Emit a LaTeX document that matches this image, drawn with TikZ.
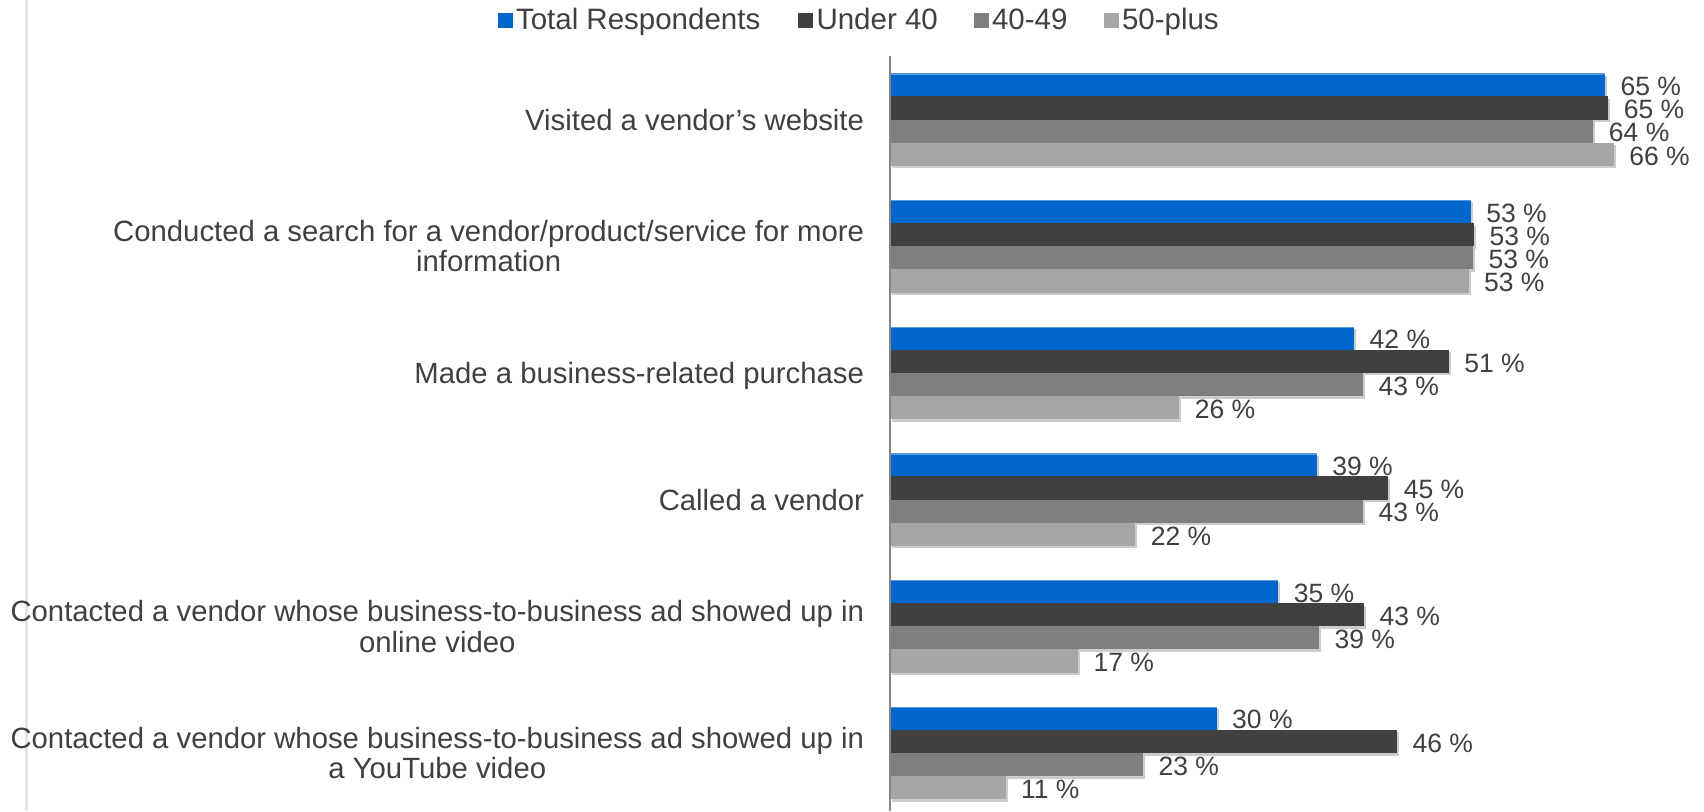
\documentclass[tikz,border=0pt]{standalone}
\usepackage{fontspec}
\setmainfont{Liberation Sans}
\usetikzlibrary{shadows}
\definecolor{cblue}{RGB}{0,102,204}
\definecolor{cbluetop}{RGB}{90,155,225}
\definecolor{cdark}{RGB}{64,64,64}
\definecolor{cgrey}{RGB}{127,127,127}
\definecolor{clight}{RGB}{166,166,166}
\definecolor{ctext}{RGB}{64,64,64}
\definecolor{caxis}{RGB}{134,134,134}
\definecolor{cframe}{RGB}{228,228,228}
\newcommand\chartbar[5]{%
  \pgfmathsetmacro\bt{73.3+126.67*#2+23.17*#3}%
  \pgfmathsetmacro\be{890+11*#4}%
  \fill[barshadow, fill=#1] (890,\bt) rectangle (\be,\bt+23.17);
  \node[val] (val#2#3) at (\be+15.5,\bt+22.2) {#5 \%};
}
\begin{document}
\begin{tikzpicture}[x=1pt,y=-1pt,
  barshadow/.style={drop shadow={shadow xshift=2pt,shadow yshift=-2.5pt,opacity=0.2,fill=black}},
  lbl/.style={font=\fontsize{29.3}{30.5}\selectfont, text=ctext, inner sep=0pt, outer sep=0pt},
  leg/.style={lbl, font=\fontsize{29.5}{30.5}\selectfont, anchor=base west},
  val/.style={lbl, font=\fontsize{26.5}{28}\selectfont, anchor=base west},
  cat/.style={lbl, anchor=base east},
  legsq/.style={minimum width=15pt, minimum height=15pt, inner sep=0pt, outer sep=0pt}]
\useasboundingbox (0,0) rectangle (1704,811);
\fill[white] (0,0) rectangle (1704,811);
% left frame line
\draw[cframe, line width=3pt] (26,0) -- (26,811);
% legend
\node[legsq, fill=cblue]  (sq1) at (505,20.5) {};
\node[leg] (leg1) at (516,29.5) {Total Respondents};
\node[legsq, fill=cdark]  (sq2) at (805.5,20.5) {};
\node[leg] (leg2) at (816.5,29.5) {Under 40};
\node[legsq, fill=cgrey]  (sq3) at (981,20.5) {};
\node[leg] (leg3) at (992,29.5) {40-49};
\node[legsq, fill=clight] (sq4) at (1111,20.5) {};
\node[leg] (leg4) at (1122,29.5) {50-plus};
% bars
\foreach \k/\a/\b/\c/\d/\la/\lb/\lc/\ld in {
  0/65.0/65.3/63.95/65.8/65/65/64/66,
  1/52.8/53.1/53.0/52.6/53/53/53/53,
  2/42.2/50.8/43.0/26.3/42/51/43/26,
  3/38.8/45.3/43.0/22.3/39/45/43/22,
  4/35.3/43.1/39.0/17.1/35/43/39/17,
  5/29.7/46.1/23.0/10.5/30/46/23/11}{
  \chartbar{cblue}{\k}{0}{\a}{\la}
  \pgfmathsetmacro\tt{73.3+126.67*\k}
  \draw[cbluetop, line width=1.2pt] (890,\tt+0.6) -- ({890+11*\a},\tt+0.6);
  \chartbar{cdark}{\k}{1}{\b}{\lb}
  \chartbar{cgrey}{\k}{2}{\c}{\lc}
  \chartbar{clight}{\k}{3}{\d}{\ld}
}
% axis
\draw[caxis, line width=1.3pt] (890,56) -- (890,811);
% category labels (group centre = 119.64 + 126.67 k)
\node[cat] (cat1) at (864,130.0) {Visited a vendor’s website};
\node[cat] (cat2a) at (864,241.4) {Conducted a search for a vendor/product/service for more};
\node[lbl, anchor=base] (cat2b) at ([yshift=-30.5pt]cat2a.base) {information};
\node[cat] (cat3) at (864,383.4) {Made a business-related purchase};
\node[cat] (cat4) at (864,510.1) {Called a vendor};
\node[cat] (cat5a) at (864,621.5) {Contacted a vendor whose business-to-business ad showed up in};
\node[lbl, anchor=base] (cat5b) at ([yshift=-30.5pt]cat5a.base) {online video};
\node[cat] (cat6a) at (864,748.2) {Contacted a vendor whose business-to-business ad showed up in};
\node[lbl, anchor=base] (cat6b) at ([yshift=-30.5pt]cat6a.base) {a YouTube video};
\end{tikzpicture}
\end{document}
